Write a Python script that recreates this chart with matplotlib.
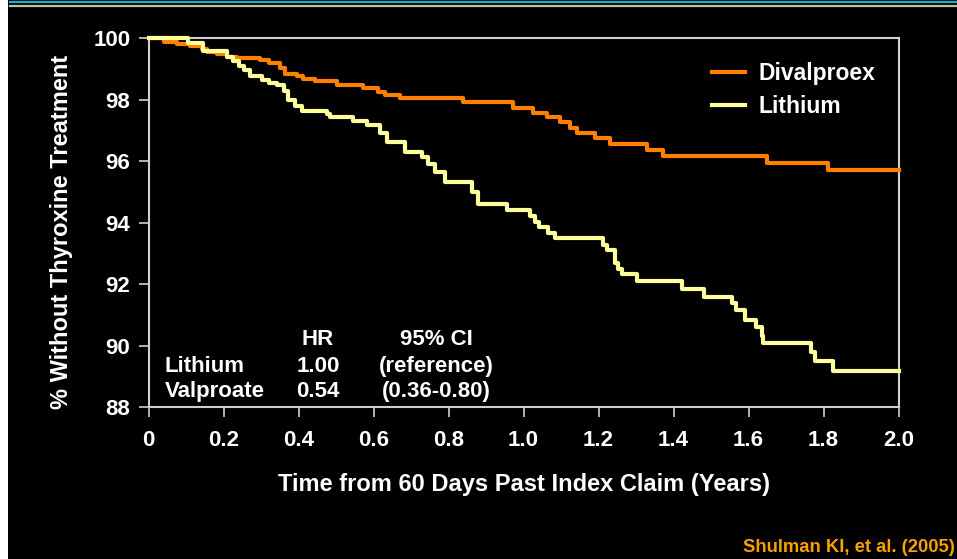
import matplotlib.pyplot as plt
from matplotlib.lines import Line2D
from matplotlib.patches import Rectangle

# Kaplan-Meier style step data: (time in years, % without thyroxine)
divalproex_t = [0, 0.040, 0.075, 0.111, 0.142, 0.155, 0.182, 0.209, 0.235, 0.297,
                0.320, 0.351, 0.364, 0.395, 0.413, 0.444, 0.502, 0.573, 0.613, 0.631,
                0.671, 0.839, 0.973, 1.026, 1.062, 1.097, 1.124, 1.142, 1.191, 1.231,
                1.329, 1.373, 1.649, 1.813, 2.0]
divalproex_pct = [100, 99.87, 99.81, 99.74, 99.64, 99.56, 99.49, 99.39, 99.34, 99.27,
                  99.19, 99.04, 98.84, 98.76, 98.67, 98.59, 98.46, 98.37, 98.24, 98.16,
                  98.04, 97.91, 97.73, 97.55, 97.43, 97.26, 97.07, 96.90, 96.74, 96.56,
                  96.35, 96.17, 95.95, 95.71, 95.71]

lithium_t = [0, 0.106, 0.144, 0.208, 0.224, 0.240, 0.255, 0.271, 0.302, 0.320,
             0.342, 0.360, 0.373, 0.391, 0.408, 0.475, 0.484, 0.546, 0.582, 0.617,
             0.635, 0.684, 0.728, 0.746, 0.764, 0.791, 0.862, 0.879, 0.955, 1.017,
             1.031, 1.042, 1.066, 1.084, 1.213, 1.222, 1.244, 1.253, 1.262, 1.303,
             1.422, 1.481, 1.557, 1.567, 1.591, 1.620, 1.635, 1.639, 1.766, 1.777,
             1.826, 2.0]
lithium_pct = [100, 99.84, 99.59, 99.39, 99.24, 99.10, 98.95, 98.76, 98.64, 98.54,
               98.46, 98.29, 97.99, 97.78, 97.63, 97.53, 97.43, 97.29, 97.17, 96.91,
               96.61, 96.30, 96.14, 95.89, 95.66, 95.32, 94.98, 94.61, 94.41, 94.20,
               94.01, 93.86, 93.67, 93.51, 93.28, 93.10, 92.70, 92.51, 92.33, 92.09,
               91.85, 91.60, 91.40, 91.15, 90.83, 90.61, 90.33, 90.08, 89.81, 89.51,
               89.19, 89.19]

x_ticks = [0, 0.2, 0.4, 0.6, 0.8, 1.0, 1.2, 1.4, 1.6, 1.8, 2.0]
x_ticklabels = ['0', '0.2', '0.4', '0.6', '0.8', '1.0', '1.2', '1.4', '1.6', '1.8', '2.0']
y_ticks = [88, 90, 92, 94, 96, 98, 100]

# hazard ratio table
table_header = ['', 'HR', '95% CI']
table_rows = [['Lithium', '1.00', '(reference)'],
              ['Valproate', '0.54', '(0.36-0.80)']]

narrow = ['Liberation Sans Narrow', 'Liberation Sans', 'DejaVu Sans']
wide = ['Liberation Sans', 'DejaVu Sans']

fig = plt.figure(figsize=(9.57, 5.59), dpi=100, facecolor='black')

# slide decorations: white strip at left, two rules at top
fig.add_artist(Rectangle((0, 0), 8 / 957, 1, transform=fig.transFigure,
                         facecolor='white', edgecolor='none'))
fig.add_artist(Line2D([10 / 957, 1], [1 - 1.5 / 559] * 2, transform=fig.transFigure,
                      color='#1cb0d8', lw=1.6))
fig.add_artist(Line2D([10 / 957, 1], [1 - 5.5 / 559] * 2, transform=fig.transFigure,
                      color='#c8c0a0', lw=1.6))

ax = fig.add_axes([148.5 / 957, 1 - 407.3 / 559, 750 / 957, 369.3 / 559])
ax.set_facecolor('black')

ax.step(divalproex_t, divalproex_pct, where='post', color='#ff8000', lw=3,
        label='Divalproex', clip_on=False, zorder=4)
ax.step(lithium_t, lithium_pct, where='post', color='#ffff9c', lw=3,
        label='Lithium', clip_on=False, zorder=5)

ax.set_xlim(0, 2.0)
ax.set_ylim(88, 100)
ax.set_xticks(x_ticks)
ax.set_xticklabels(x_ticklabels)
ax.set_yticks(y_ticks)

for s in ax.spines.values():
    s.set_color('#d0d0d0')
    s.set_linewidth(1.5)
ax.tick_params(colors='#d0d0d0', direction='out', length=7, width=1.2)
ax.tick_params(axis='x', pad=9)
ax.tick_params(axis='y', pad=6)
for lab in ax.get_xticklabels() + ax.get_yticklabels():
    lab.set_family(narrow)
    lab.set_fontweight('bold')
    lab.set_fontsize(16)
    lab.set_color('white')

ax.set_xlabel('Time from 60 Days Past Index Claim (Years)', family=wide,
              fontweight='bold', fontsize=17, color='white', labelpad=16)
ax.set_ylabel('% Without Thyroxine Treatment', family=wide,
              fontweight='bold', fontsize=17, color='white')
ax.yaxis.set_label_coords(-0.101, 0.475)

leg = ax.legend(loc='upper left', bbox_to_anchor=(0.751, 0.935), frameon=False,
                handlelength=1.45, handletextpad=0.6, labelspacing=0.42,
                borderpad=0, borderaxespad=0,
                prop={'family': narrow, 'weight': 'bold', 'size': 16.5})
for t in leg.get_texts():
    t.set_color('white')

# table of hazard ratios
col_x = [0.022, 0.226, 0.384]
col_ha = ['left', 'center', 'center']
row_y = [0.169, 0.096, 0.029]
for j, txt in enumerate(table_header):
    ax.text(col_x[j], row_y[0], txt, transform=ax.transAxes, ha=col_ha[j],
            va='baseline', color='white', family=narrow, fontweight='bold', fontsize=16)
for i, row in enumerate(table_rows):
    for j, txt in enumerate(row):
        ax.text(col_x[j], row_y[i + 1], txt, transform=ax.transAxes, ha=col_ha[j],
                va='baseline', color='white', family=narrow, fontweight='bold',
                fontsize=16)

fig.text(955 / 957, 1 - 548 / 559, 'Shulman KI, et al. (2005)', ha='right',
         va='center', color='#f5a200', family=wide, fontweight='bold', fontsize=13.3)

fig.savefig('out.png', dpi=100, facecolor='black')
